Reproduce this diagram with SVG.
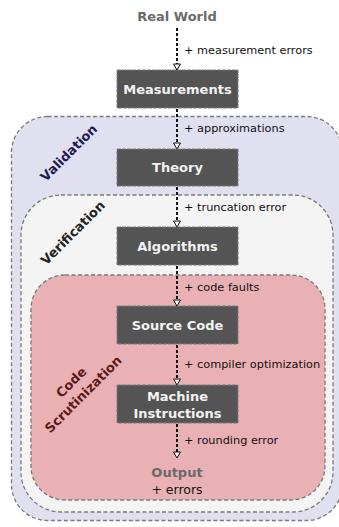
<svg xmlns="http://www.w3.org/2000/svg" width="339" height="527" viewBox="0 0 339 527">
  <defs>
    <style>
      .region { stroke: #7a7a7a; stroke-width: 1.3; stroke-dasharray: 4 2.5; }
      .box { fill: #545454; stroke: #7c7c7c; stroke-width: 1; stroke-dasharray: 4 1; }
      .boxtxt { font-family: "DejaVu Sans", sans-serif; font-weight: bold; font-size: 13px; fill: #f2f2f2; text-anchor: middle; }
      .lbl { font-family: "DejaVu Sans", sans-serif; font-size: 11.3px; fill: #111; }
      .end { font-family: "DejaVu Sans", sans-serif; font-weight: bold; font-size: 13px; fill: #6a6a6a; text-anchor: middle; }
      .tag { font-family: "DejaVu Sans", sans-serif; font-weight: bold; font-size: 13px; text-anchor: middle; }
      .flow { stroke: #111; stroke-width: 2; stroke-dasharray: 3 2; fill: none; }
    </style>
    <!-- hollow triangle head, drawn along +x so orient="auto" points it down the line -->
    <marker id="tri" markerWidth="9" markerHeight="9" refX="7" refY="4.5" orient="auto" markerUnits="userSpaceOnUse" viewBox="0 0 9 9">
      <path d="M1,1 L7,4.5 L1,8 Z" fill="#fff" stroke="#111" stroke-width="1"/>
    </marker>
  </defs>

  <!-- nested regions -->
  <g id="validation">
    <rect class="region" x="11.5" y="116.5" width="331" height="404" rx="36" fill="#e1e0f1"/>
    <text class="tag" fill="#1c1c52" transform="translate(72,156) rotate(-45)">Validation</text>
  </g>
  <g id="verification">
    <rect class="region" x="21" y="195" width="312" height="317" rx="40" fill="#f4f4f4"/>
    <text class="tag" fill="#222" transform="translate(76,236) rotate(-45)">Verification</text>
  </g>
  <g id="code-scrutinization">
    <rect class="region" x="31" y="275" width="294" height="225" rx="34" fill="#e9b1b3"/>
    <text class="tag" fill="#5c1b1b" transform="translate(78,389) rotate(-45)"><tspan x="0" y="-5">Code</tspan><tspan x="0" y="12">Scrutinization</tspan></text>
  </g>

  <!-- connectors -->
  <g id="connectors">
    <line class="flow" x1="177" y1="28" x2="177" y2="70" marker-end="url(#tri)"/>
    <line class="flow" x1="177" y1="109" x2="177" y2="149" marker-end="url(#tri)"/>
    <line class="flow" x1="177" y1="187" x2="177" y2="227" marker-end="url(#tri)"/>
    <line class="flow" x1="177" y1="266" x2="177" y2="306" marker-end="url(#tri)"/>
    <line class="flow" x1="177" y1="345" x2="177" y2="385" marker-end="url(#tri)"/>
    <line class="flow" x1="177" y1="424" x2="177" y2="458" marker-end="url(#tri)"/>
    <text class="lbl" x="184" y="54">+ measurement errors</text>
    <text class="lbl" x="184" y="132">+ approximations</text>
    <text class="lbl" x="184" y="211">+ truncation error</text>
    <text class="lbl" x="184" y="291">+ code faults</text>
    <text class="lbl" x="184" y="368">+ compiler optimization</text>
    <text class="lbl" x="184" y="444">+ rounding error</text>
  </g>

  <!-- stages -->
  <g id="real-world">
    <text class="end" x="177" y="21">Real World</text>
  </g>
  <g id="measurements">
    <rect class="box" x="117" y="70" width="121" height="38"/>
    <text class="boxtxt" x="177.5" y="94">Measurements</text>
  </g>
  <g id="theory">
    <rect class="box" x="117" y="149" width="121" height="37"/>
    <text class="boxtxt" x="177.5" y="172">Theory</text>
  </g>
  <g id="algorithms">
    <rect class="box" x="117" y="227" width="121" height="38"/>
    <text class="boxtxt" x="177.5" y="251">Algorithms</text>
  </g>
  <g id="source-code">
    <rect class="box" x="117" y="306" width="121" height="38"/>
    <text class="boxtxt" x="177.5" y="330">Source Code</text>
  </g>
  <g id="machine-instructions">
    <rect class="box" x="117" y="385" width="121" height="38"/>
    <text class="boxtxt" x="177.5" y="401">Machine</text>
    <text class="boxtxt" x="177.5" y="418">Instructions</text>
  </g>
  <g id="output">
    <text class="end" x="177" y="477">Output</text>
    <text class="lbl" x="177" y="494" style="font-size:12.5px; text-anchor:middle">+ errors</text>
  </g>
</svg>
